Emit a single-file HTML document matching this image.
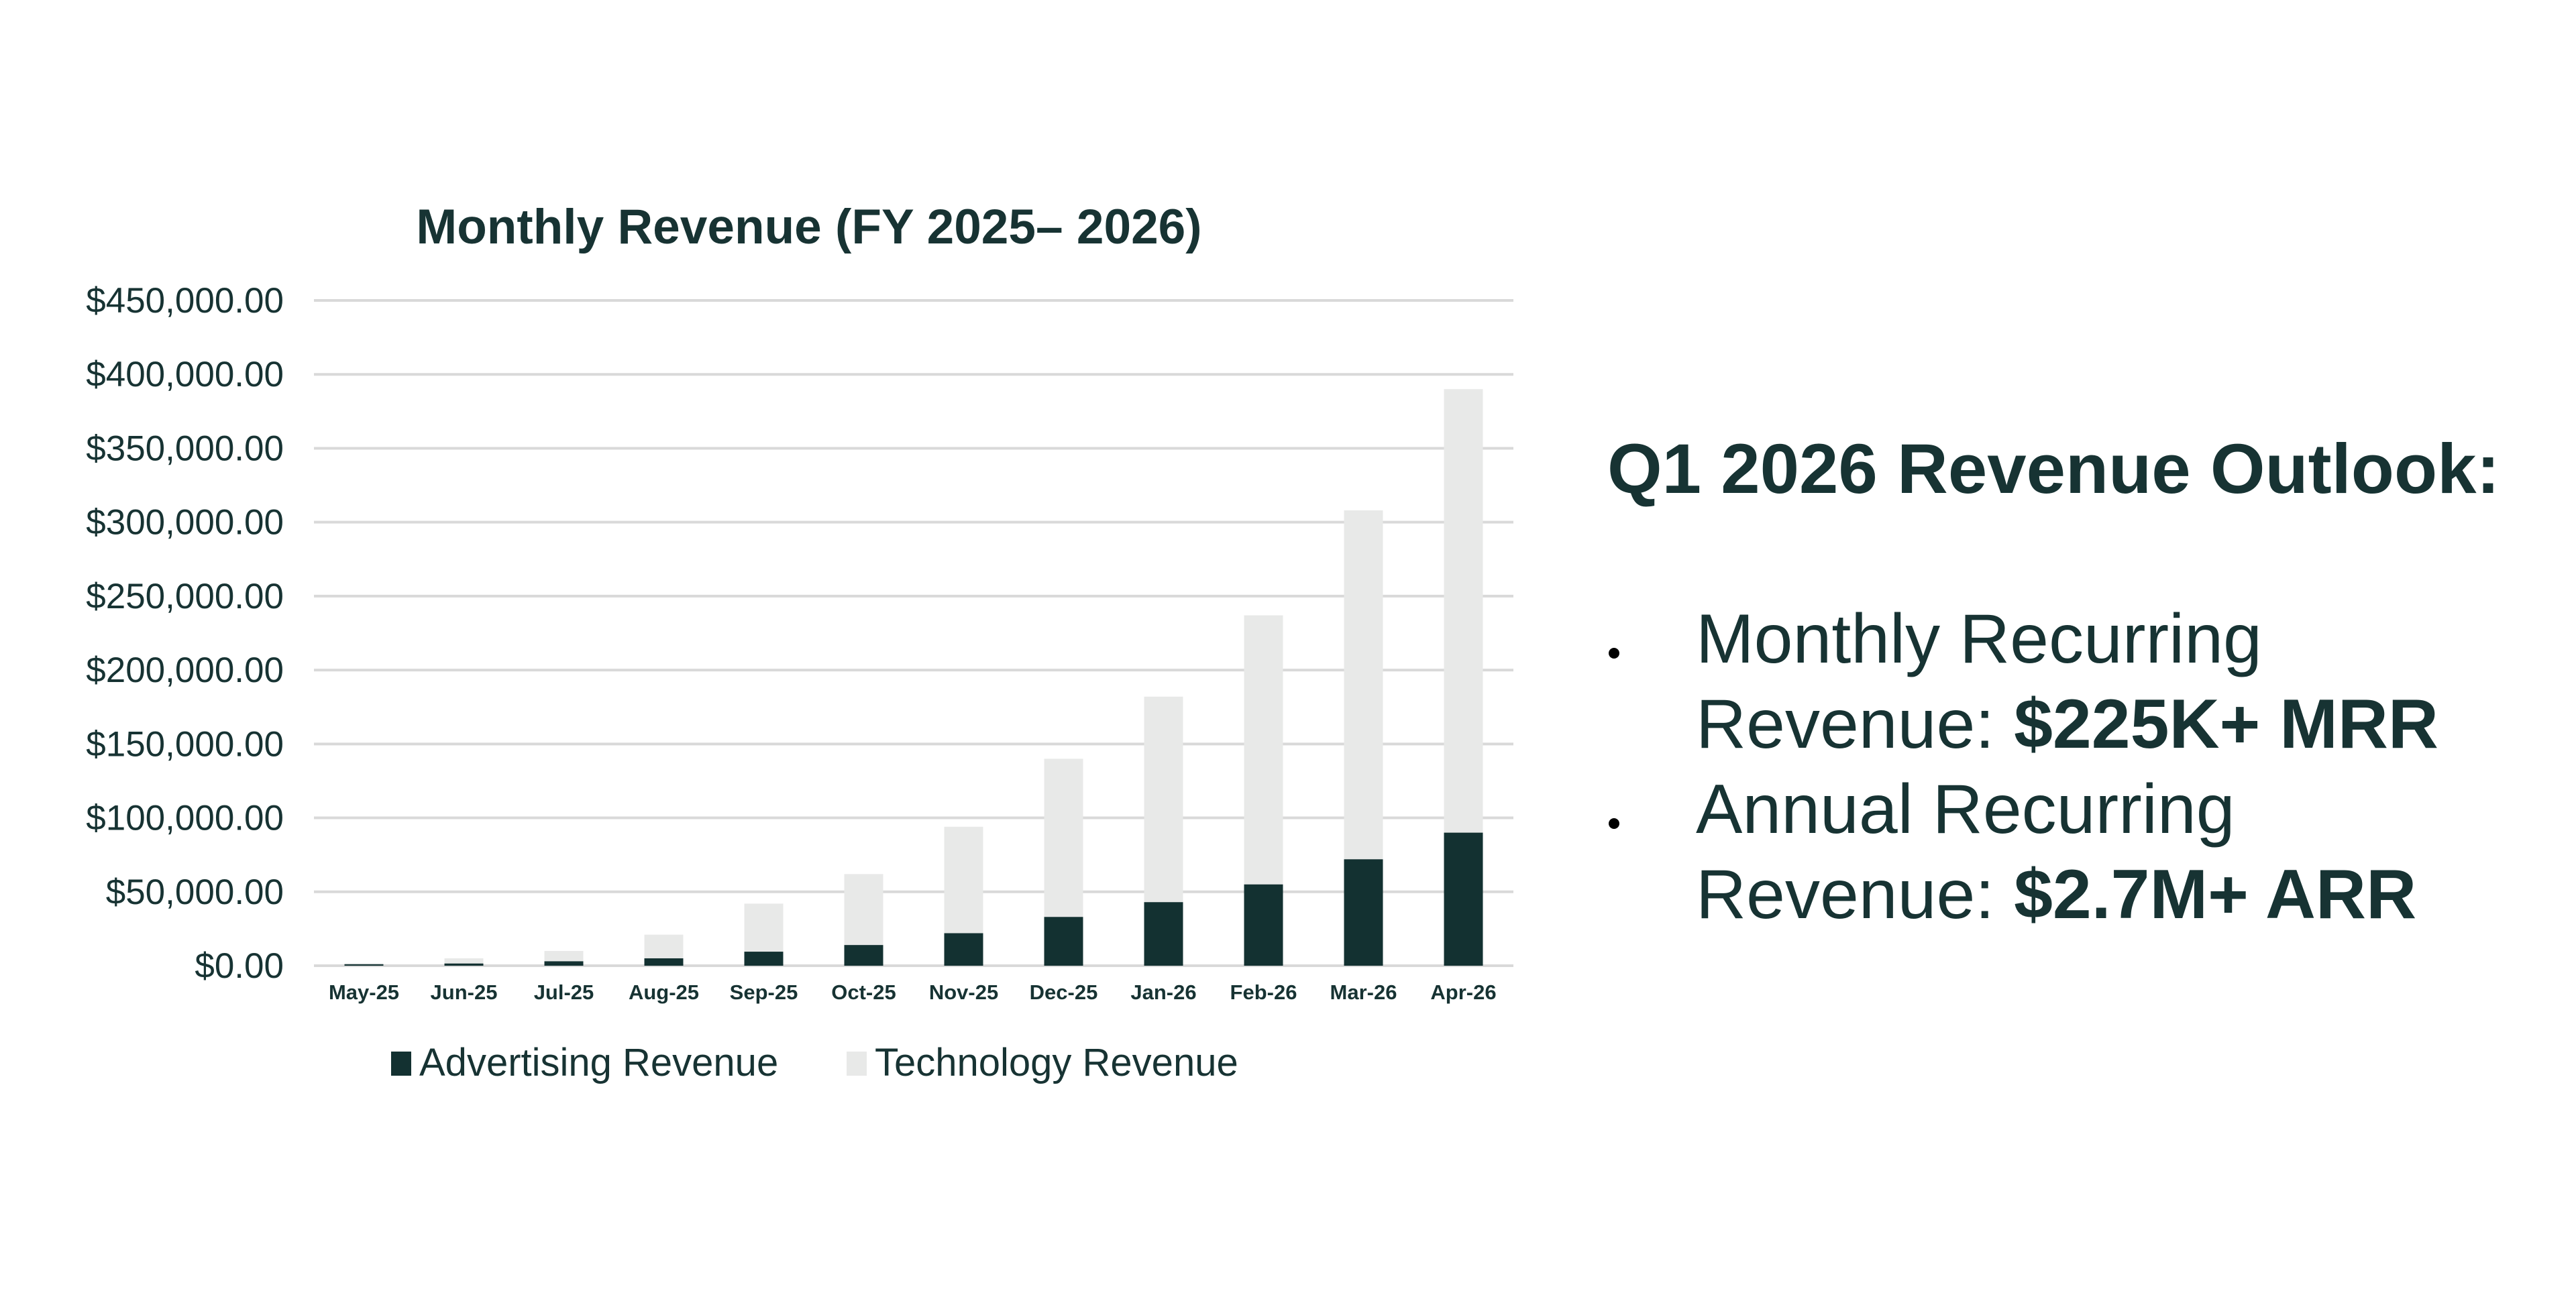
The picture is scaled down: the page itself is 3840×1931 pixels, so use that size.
<!DOCTYPE html>
<html><head><meta charset="utf-8"><style>
html,body{margin:0;padding:0;background:#fff;}
body{width:3840px;height:1931px;overflow:hidden;position:relative;font-family:"Liberation Sans",Arial,sans-serif;color:#173333;}
svg{position:absolute;left:0;top:0;}
.outlook{position:absolute;left:2396px;top:640px;}
.outlook h2{margin:0;font-size:105px;font-weight:bold;line-height:120px;letter-spacing:0px;color:#173333;white-space:nowrap;}
.outlook ul{list-style:none;margin:130px 0 0 0;padding:0;}
.outlook li{position:relative;padding-left:132px;font-size:104px;line-height:127px;color:#173333;white-space:nowrap;}
.outlook li::before{content:"";position:absolute;left:2px;top:76px;width:16px;height:16px;border-radius:50%;background:#000;}
</style></head><body>
<svg id="chart" width="2400" height="1931" xmlns="http://www.w3.org/2000/svg"></svg>
<div class="outlook">
<h2>Q1 2026 Revenue Outlook:</h2>
<ul>
<li>Monthly Recurring<br>Revenue: <b>$225K+ MRR</b></li>
<li>Annual Recurring<br>Revenue: <b>$2.7M+ ARR</b></li>
</ul></div>
<script>
const categories=["May-25","Jun-25","Jul-25","Aug-25","Sep-25","Oct-25","Nov-25","Dec-25","Jan-26","Feb-26","Mar-26","Apr-26"];
const advertising=[1000,1500,3000,5000,9500,14000,22000,33000,43000,55000,72000,90000];
const technology=[500,3500,7000,16000,32500,48000,72000,107000,139000,182000,236000,300000];
const yTicks=[0,50000,100000,150000,200000,250000,300000,350000,400000,450000];
const yMax=450000;
(function(){
const svg=document.getElementById('chart');
const NS="http://www.w3.org/2000/svg";
const pLeft=468,pRight=2256,pTop=448,pBase=1440;
const y=v=>pBase-(v/yMax)*(pBase-pTop);
const step=(pRight-pLeft)/categories.length;
const x=i=>pLeft+step*(i+0.5);
const bw=58;
function mk(t,a){const e=document.createElementNS(NS,t);for(const k in a)e.setAttribute(k,a[k]);svg.appendChild(e);return e;}
const F='Liberation Sans, sans-serif';
let t=mk('text',{x:1206,y:363,'text-anchor':'middle','font-size':73,'font-weight':'bold',fill:'#173333','font-family':F});
t.textContent="Monthly Revenue (FY 2025\u2013 2026)";


yTicks.forEach(v=>{
 const g=mk('line',{x1:pLeft,x2:pRight,y1:y(v),y2:y(v),stroke:'#d9d9d9','stroke-width':4});
 
 
 const l=mk('text',{x:423,y:y(v)+18,'text-anchor':'end','font-size':53,fill:'#173333','font-family':F});
 l.textContent='$'+v.toLocaleString('en-US',{minimumFractionDigits:2});
 
 
});
categories.forEach((c,i)=>{
 const a=advertising[i],tc=technology[i];
 const r2=mk('rect',{x:x(i)-bw/2,y:y(a+tc),width:bw,height:y(a)-y(a+tc),fill:'#e8e9e8'});
 
 
 const r1=mk('rect',{x:x(i)-bw/2,y:y(a),width:bw,height:pBase-y(a),fill:'#133131'});
 
 
 const l=mk('text',{x:x(i),y:1490,'text-anchor':'middle','font-size':31,'font-weight':'bold',fill:'#173333','font-family':F});
 l.textContent=c;
 
 
});
const s1=mk('rect',{x:583,y:1568,width:30,height:36,fill:'#133131'});


let l1=mk('text',{x:625,y:1604,'font-size':58,fill:'#173333','font-family':F});
l1.textContent="Advertising Revenue";


const s2=mk('rect',{x:1262,y:1568,width:30,height:36,fill:'#e8e9e8'});


let l2=mk('text',{x:1304,y:1604,'font-size':58,fill:'#173333','font-family':F});
l2.textContent="Technology Revenue";


})();
</script>
</body></html>
